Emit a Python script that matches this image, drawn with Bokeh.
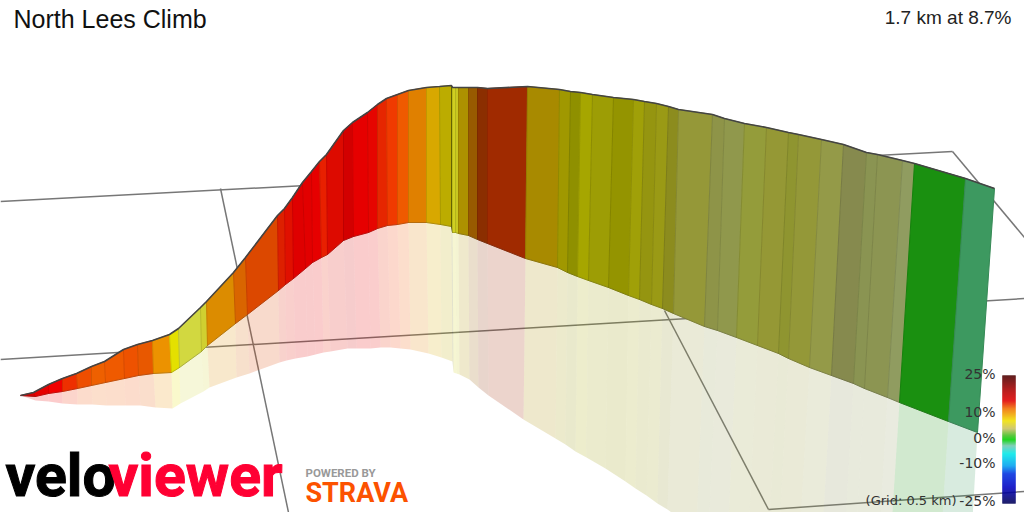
from bokeh.plotting import figure
from bokeh.models import Range1d, ColumnDataSource
from bokeh.core.properties import value
from bokeh.embed import file_html
from bokeh.resources import INLINE

title_text = "North Lees Climb"
summary_text = "1.7 km at 8.7%"
grid_text = "(Grid: 0.5 km)"

# Projected profile, one entry per road-segment boundary
top_x = [20,33,48,62,76,91,104,123,137,152,169,178,200,206,233,245,277,284,292,302,311,319,326,343,352,367,377,386,397,408,426,439,451,452,455,458,468,477,487,527,559,570,580,592,613,633,644,656,668,678,712,724,744,766,788,798,821,843,866,877,902,914,965,994]
top_y = [395,392,384,378,373,366,361,349,344,340,334,328,307,301,272,257,215,208,197,182,171,161,154,130,122,112,104,98,94,90,87,86,85,87,87,87,87,87,88,86,89,91,92,94,97,99,101,103,106,109,114,118,123,127,132,134,139,144,152,154,160,163,178,188]
base_x = [20,35,48,62,77,91,105,124,138,153,171,179,201,207,235,247,278,285,293,305,312,321,327,343,353,368,377,387,397,408,426,440,451,452,455,458,468,477,487,525,557,567,577,588,608,628,639,651,662,673,704,717,736,757,778,788,809,831,853,864,887,899,948,977]
base_y = [395,396,393,391,388,385,382,378,375,373,372,367,351,345,323,314,290,284,278,268,262,257,254,240,236,232,228,225,224,222,222,224,226,232,232,233,235,239,243,258,267,272,276,280,287,295,299,304,308,313,326,330,337,345,353,358,367,375,383,388,397,402,421,432]
shadow_x = [20,35,48,62,77,92,106,125,140,155,172,180,203,209,236,249,279,286,295,307,315,323,330,347,356,370,380,390,400,410,428,441,452,453,456,459,469,478,488,523,555,565,575,586,605,625,635,646,657,667,696,708,727,747,767,777,797,819,841,852,875,886,935,965]
shadow_y = [395,400,401,403,404,404,405,405,405,407,408,403,391,387,377,373,362,360,358,356,354,352,351,348,348,348,347,347,348,349,353,357,361,372,373,374,379,387,395,419,438,444,451,457,468,481,488,495,503,509,530,535,545,555,560,565,575,585,590,595,600,605,625,640]

segment_colors = ["#d40000","#e60000","#f00000","#ee2f00","#ee4e00","#ee6000","#ef5a00","#ee5200","#e85800","#ec9200","#e4e000","#d2d840","#d0d030","#dc8c00","#d96500","#dc4800","#dd2000","#e01000","#df0000","#e20000","#e60000","#e82000","#dd0a00","#d30000","#e60000","#e60500","#e62600","#f03a00","#ef5a00","#e08000","#d8a800","#bcac00","#707000","#d0d020","#c8c820","#ad9100","#985a00","#8b2e00","#a02a00","#a88a00","#a09800","#8f9000","#a6a600","#9d9d05","#949400","#a0a008","#959510","#9a9a15","#8c8c1e","#959838","#8e9448","#90984c","#949c3a","#959835","#8f9530","#949838","#949a48","#868a4e","#8a9452","#8c9552","#909c60","#1a9010","#3d9960"]

# Ground grid
grid_x0 = [0,0,768,220,664,952]
grid_y0 = [201,359,509,188,310,151]
grid_x1 = [952,1024,1024,288,768,1024]
grid_y1 = [151,298,491,512,509,237]

# Gradient scale
scale_labels = ["25%","10%","0%","-10%","-25%"]
scale_label_y = [374,412,438,463,501]
scale_stop_y = [375,390,400,408,420,428,435,439,445,453,465,473,487,503]
scale_stop_colors = ["#4a0000","#b00000","#e00000","#f07000","#f0e000","#c8c060","#40c020","#00d000","#70c8b0","#00e8e8","#00a0f0","#0030e0","#0000c0","#000050"]

p = figure(width=1024, height=512, x_range=Range1d(0,1024), y_range=Range1d(512,0),
           output_backend="svg", toolbar_location=None, min_border=0)
p.axis.visible = False
p.grid.visible = False
p.outline_line_color = None
p.background_fill_color = "#ffffff"
p.border_fill_color = "#ffffff"

p.segment(grid_x0, grid_y0, grid_x1, grid_y1, line_color="#777777", line_width=1.5)

n = len(segment_colors)
shadow = ColumnDataSource(dict(
    xs=[[base_x[i],base_x[i+1],shadow_x[i+1],shadow_x[i]] for i in range(n)],
    ys=[[base_y[i],base_y[i+1],shadow_y[i+1],shadow_y[i]] for i in range(n)],
    c=segment_colors))
p.patches("xs","ys",source=shadow,fill_color="c",fill_alpha=0.2,line_color=None)

wall = ColumnDataSource(dict(
    xs=[[top_x[i],top_x[i+1],base_x[i+1],base_x[i]] for i in range(n)],
    ys=[[top_y[i],top_y[i+1],base_y[i+1],base_y[i]] for i in range(n)],
    c=segment_colors))
p.patches("xs","ys",source=wall,fill_color="c",line_color="c",line_width=1)
p.segment(top_x, top_y, base_x, base_y, line_color="#000000", line_alpha=0.1, line_width=1)
p.line(base_x, base_y, line_color="#333333", line_alpha=0.25, line_width=1)
p.line(top_x, top_y, line_color="#444444", line_width=1.6)

# colour scale
def hex2rgb(h):
    return [int(h[i:i+2],16) for i in (1,3,5)]
rows, row_colors = [], []
for k in range(len(scale_stop_y)-1):
    a, b = scale_stop_y[k], scale_stop_y[k+1]
    ca, cb = hex2rgb(scale_stop_colors[k]), hex2rgb(scale_stop_colors[k+1])
    for y in range(a,b):
        t = (y-a)/(b-a)
        rows.append(y)
        row_colors.append("#%02x%02x%02x" % tuple(round(u+(v-u)*t) for u,v in zip(ca,cb)))
p.quad(left=1002,right=1015,top=rows,bottom=[r+1 for r in rows],fill_color=row_colors,line_color=row_colors,line_width=0.3)

def put(x,y,s,size,color="#111111",font="Liberation Sans",style="normal",align="left",**kw):
    p.text([x],[y-0.4*size],text=[s],text_font=value(font),text_font_size=f"{size}px",text_font_style=style,
           text_color=color,text_align=align,text_baseline="alphabetic",**kw)

put(13,28,title_text,25)
put(1011,25,summary_text,19,color="#222222",align="right")
for s,y in zip(scale_labels,scale_label_y):
    put(995,y+5,s,14,color="#333333",font="DejaVu Sans",align="right")
put(956,505,grid_text,13,color="#333333",font="DejaVu Sans",align="right")

put(5,499,"velo",59,color="#000000",font="Roboto",style="bold",text_outline_color="#000000")
put(108,499,"viewer",59,color="#ff0033",font="Roboto",style="bold",text_outline_color="#ff0033")
put(305,477,"POWERED BY",11.5,color="#999999",font="Roboto",style="bold")
put(305,503,"STRAVA",27,color="#fc5200",font="Roboto",style="bold")

open("out.html","w").write(file_html(p, INLINE))
